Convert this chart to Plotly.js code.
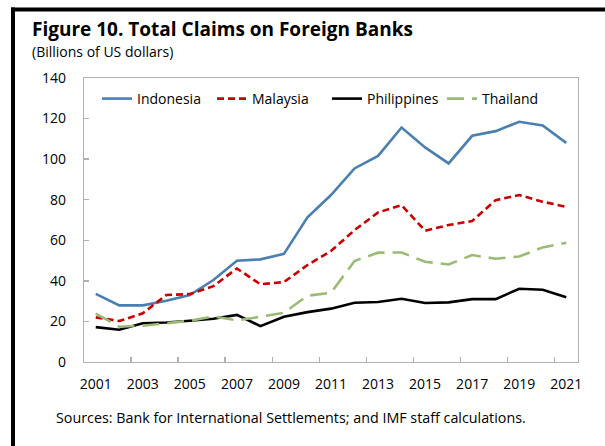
<!DOCTYPE html>
<html>
<head>
<meta charset="utf-8">
<script src="https://cdn.plot.ly/plotly-3.0.1.min.js"></script>
<style>
  html, body { margin: 0; padding: 0; background: #fff; }
  #chart { width: 605px; height: 446px; }
</style>
</head>
<body>
<div id="chart"></div>
<script>
const years = ["2001","2002","2003","2004","2005","2006","2007","2008","2009","2010","2011",
               "2012","2013","2014","2015","2016","2017","2018","2019","2020","2021"];
const tickLabels = ["2001","2003","2005","2007","2009","2011","2013","2015","2017","2019","2021"];
const indonesia = [33.6, 27.9, 27.9, 30.2, 33.0, 40.4, 49.9, 50.6, 53.3, 71.3, 82.3,
                   95.4, 101.6, 115.6, 105.8, 97.9, 111.5, 113.8, 118.4, 116.6, 108.0];
const malaysia = [22.0, 20.2, 24.0, 33.0, 33.5, 37.4, 46.1, 38.3, 39.4, 47.8, 54.7,
                  65.0, 73.7, 77.3, 64.7, 67.5, 69.5, 79.8, 82.3, 79.0, 76.5];
const philippines = [17.2, 15.9, 19.1, 19.5, 20.3, 21.3, 23.2, 17.7, 22.3, 24.6, 26.3,
                     29.2, 29.6, 31.2, 29.1, 29.4, 31.0, 31.0, 36.1, 35.6, 31.9];
const thailand = [23.8, 17.4, 17.9, 19.1, 20.3, 22.5, 20.5, 22.3, 24.3, 32.7, 34.1,
                  49.8, 53.9, 54.0, 49.4, 48.1, 52.7, 50.9, 52.0, 56.5, 58.8];

const FONT = "'Open Sans', 'Noto Sans', sans-serif";

const traces = [
  {x: years, y: indonesia, name: "Indonesia", type: "scatter", mode: "lines",
   line: {color: "#4a7fb0", width: 2.6}},
  {x: years, y: malaysia, name: "Malaysia", type: "scatter", mode: "lines",
   line: {color: "#c80000", width: 2.6, dash: "7px,4px"}},
  {x: years, y: philippines, name: "Philippines", type: "scatter", mode: "lines",
   line: {color: "#000000", width: 2.6}},
  {x: years, y: thailand, name: "Thailand", type: "scatter", mode: "lines",
   line: {color: "#9bbb74", width: 2.6, dash: "17px,8px"}}
];

const W = 605, H = 446, ML = 84, MR = 27, MT = 78, MB = 84;
const pw = W - ML - MR, ph = H - MT - MB;
function px(x) { return (x - ML) / pw; }
function py(y) { return (H - MB - y) / ph; }

const layout = {
  width: W, height: H,
  margin: {l: ML, r: MR, t: MT, b: MB, pad: 0},
  paper_bgcolor: "#ffffff", plot_bgcolor: "#ffffff",
  font: {family: FONT, size: 14, color: "#000"},
  showlegend: true,
  legend: {orientation: "h", x: px(97), y: py(99), xanchor: "left", yanchor: "middle",
           bgcolor: "rgba(0,0,0,0)", font: {family: FONT, size: 14, color: "#000"},
           entrywidth: 70, entrywidthmode: "pixels", traceorder: "normal"},
  xaxis: {
    type: "category", range: [-0.5, 20.5], tickmode: "array",
    tickvals: tickLabels, ticktext: tickLabels,
    showgrid: false, zeroline: false, showline: true, mirror: true,
    linecolor: "#b0b0b0", linewidth: 1.3, ticks: "", fixedrange: true,
    tickfont: {family: FONT, size: 14, color: "#000"}, ticklabelstandoff: 9
  },
  yaxis: {
    range: [0, 140], tickmode: "linear", tick0: 0, dtick: 20,
    showgrid: false, zeroline: false, showline: true, mirror: true,
    linecolor: "#b0b0b0", linewidth: 1.3, ticks: "inside", ticklen: 5,
    tickcolor: "#b0b0b0", tickwidth: 1.3,
    tickfont: {family: FONT, size: 14, color: "#000"}, ticklabelstandoff: 14
  },
  annotations: [
    {text: "<b>Figure 10. Total Claims on Foreign Banks</b>", xref: "paper", yref: "paper",
     x: px(30), y: py(29), xanchor: "left", yanchor: "middle", showarrow: false,
     font: {family: FONT, size: 19, color: "#000"}},
    {text: "(Billions of US dollars)", xref: "paper", yref: "paper",
     x: px(30), y: py(52), xanchor: "left", yanchor: "middle", showarrow: false,
     font: {family: FONT, size: 14, color: "#000"}},
    {text: "Sources: Bank for International Settlements; and IMF staff calculations.", xref: "paper", yref: "paper",
     x: px(54), y: py(417), xanchor: "left", yanchor: "middle", showarrow: false,
     font: {family: FONT, size: 14.3, color: "#000"}}
  ],
  shapes: [
    {type: "line", xref: "paper", yref: "paper", x0: px(11), x1: px(610), y0: py(9.5), y1: py(9.5),
     line: {color: "#000", width: 4}},
    {type: "line", xref: "paper", yref: "paper", x0: px(13), x1: px(13), y0: py(7.5), y1: py(450),
     line: {color: "#000", width: 4}}
  ]
};

// category boundary tick marks (every two years), drawn via a secondary axis
layout.xaxis2 = {
  overlaying: "x", anchor: "y", side: "bottom", range: [-0.5, 20.5],
  tickmode: "linear", tick0: 1.5, dtick: 2, ticks: "inside", ticklen: 5,
  tickcolor: "#b0b0b0", tickwidth: 1.3, showticklabels: false,
  showgrid: false, zeroline: false, showline: false
};
traces.push({x: [0], y: [null], xaxis: "x2", showlegend: false, hoverinfo: "skip", type: "scatter", mode: "lines"});

Plotly.newPlot("chart", traces, layout, {staticPlot: true, displayModeBar: false});
</script>
</body>
</html>
